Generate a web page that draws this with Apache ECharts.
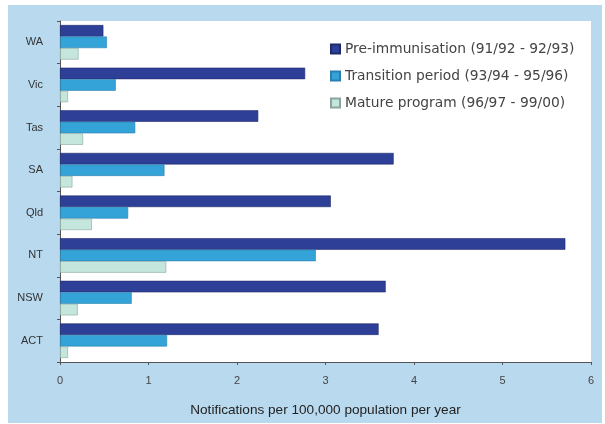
<!DOCTYPE html>
<html><head><meta charset="utf-8">
<script src="https://cdn.jsdelivr.net/npm/echarts@6/dist/echarts.min.js"></script>
<style>html,body{margin:0;padding:0;background:#fff;}#c{width:605px;height:424px;}</style>
</head><body><div id="c"></div>
<script>
const states = ['WA','Vic','Tas','SA','Qld','NT','NSW','ACT'];
const seriesNames = ['Pre-immunisation (91/92 - 92/93)','Transition period (93/94 - 95/96)','Mature program (96/97 - 99/00)'];
const preImmunisation = [0.49, 2.77, 2.24, 3.77, 3.06, 5.71, 3.68, 3.60];
const transition = [0.53, 0.63, 0.85, 1.18, 0.77, 2.89, 0.81, 1.21];
const mature = [0.21, 0.09, 0.26, 0.14, 0.36, 1.20, 0.20, 0.09];
const xTicks = [0,1,2,3,4,5,6];

const colors = ['#2e3f98','#33a3d8','#c4e6dc'];
const borders = ['#1f2a6a','#2a7fae','#8aa4a0'];
const values = [preImmunisation, transition, mature];

const chart = echarts.init(document.getElementById('c'));
chart.setOption({
  animation:false,
  graphic:[{type:'rect',shape:{x:8,y:5,width:594,height:418},style:{fill:'#b9d9ee'},z:-10}],
  grid:{left:60,right:14,top:21,bottom:62,show:true,backgroundColor:'#ffffff',borderWidth:0},
  legend:{
    orient:'vertical',left:325,top:37,itemGap:13,itemWidth:9,itemHeight:9,icon:'rect',
    textStyle:{fontFamily:'DejaVu Sans',fontSize:13.8,color:'#444'},
    data:seriesNames
  },
  xAxis:{
    type:'value',min:0,max:6,interval:1,
    name:'Notifications per 100,000 population per year',nameLocation:'middle',nameGap:41,
    nameTextStyle:{fontFamily:'Liberation Sans, Arial',fontSize:13.6,color:'#222'},
    axisLine:{show:true,lineStyle:{color:'#555',width:1}},
    axisTick:{show:true,inside:false,length:3,lineStyle:{color:'#555'}},
    axisLabel:{formatter:v=>xTicks.includes(v)?String(v):'',fontFamily:'Liberation Sans, Arial',fontSize:11,color:'#444',margin:13},
    splitLine:{show:false}
  },
  yAxis:{
    type:'category',data:states,inverse:true,
    axisLine:{show:true,lineStyle:{color:'#555',width:1}},
    axisTick:{show:true,length:3,lineStyle:{color:'#555'}},
    axisLabel:{fontFamily:'Liberation Sans, Arial',fontSize:11,color:'#333',margin:17}
  },
  series:seriesNames.map((n,i)=>({
    name:n,type:'bar',data:values[i],barGap:'0%',barCategoryGap:'19%',
    itemStyle:{color:colors[i],borderColor:borders[i],borderWidth:0.6}
  }))
});
</script></body></html>
